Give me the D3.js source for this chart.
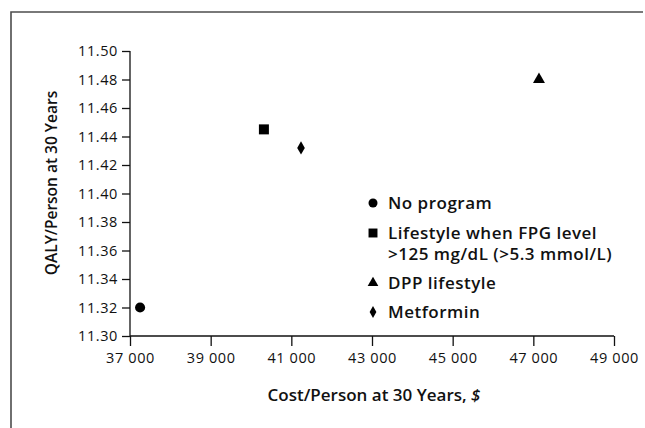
<!DOCTYPE html>
<html>
<head>
<meta charset="utf-8">
<script src="https://cdn.jsdelivr.net/npm/d3@7"></script>
<style>
  body { margin: 0; background: #fff; }
  svg { display: block; font-family: "Open Sans", sans-serif; }
</style>
</head>
<body>
<div id="chart"></div>
<script>
// the data
let strategies = ["No program", "Lifestyle when FPG level >125 mg/dL (>5.3 mmol/L)", "DPP lifestyle", "Metformin"];
let costs = [37250, 40320, 47140, 41240];
let qalys = [11.32, 11.445, 11.48, 11.432];
let symbols = ["circle", "square", "triangle", "diamond"];
let xTicks = [37000, 39000, 41000, 43000, 45000, 47000, 49000];
let yTicks = [11.30, 11.32, 11.34, 11.36, 11.38, 11.40, 11.42, 11.44, 11.46, 11.48, 11.50];

function graph(id) {
	let width = 645, height = 428;
	let margin = { left: 130, right: 31, top: 51, bottom: 92 };

	let svg = d3.select(id).append("svg")
		.attr("width", width)
		.attr("height", height);

	// frame round the figure
	svg.append("path")
		.attr("d", "M11,428 L11,12 L643,12")
		.attr("fill", "none")
		.attr("stroke", "#4d4d4d")
		.attr("stroke-width", 1.6);

	let x = d3.scaleLinear()
		.domain([37000, 49000])
		.range([margin.left, width - margin.right]);

	let y = d3.scaleLinear()
		.domain([11.30, 11.50])
		.range([height - margin.bottom, margin.top]);

	let xAxis = svg.append("g")
		.attr("transform", `translate(0,${height - margin.bottom})`)
		.call(d3.axisBottom(x).tickValues(xTicks).tickSize(10).tickPadding(7).tickFormat((d) => d3.format(",")(d).replace(",", " ")));

	let yAxis = svg.append("g")
		.attr("transform", `translate(${margin.left},0)`)
		.call(d3.axisLeft(y).tickValues(yTicks).tickSize(8).tickPadding(4).tickFormat(d3.format(".2f")));

	[xAxis, yAxis].forEach((g) => {
		g.select(".domain").attr("stroke", "#111").attr("stroke-width", 1.3);
		g.selectAll(".tick line").attr("stroke", "#111").attr("stroke-width", 1.3);
		g.selectAll(".tick text").attr("fill", "#111")
			.style("font-size", "14.5px")
			.style("letter-spacing", "0.6px")
			.style("font-family", "Open Sans");
	});
	xAxis.select(".domain").attr("d", `M${margin.left},0H${width - margin.right}`);
	yAxis.select(".domain").attr("d", `M0,${height - margin.bottom}V${margin.top}`);

	// axis titles
	let xt = svg.append("text")
		.attr("x", 374)
		.attr("y", 401)
		.attr("text-anchor", "middle")
		.attr("font-size", "17px")
		.attr("font-weight", 600)
		.attr("fill", "#111");
	xt.append("tspan").text("Cost/Person at 30 Years, ");
	xt.append("tspan").attr("font-style", "italic").text("$");

	svg.append("text")
		.attr("transform", `translate(57,183) rotate(-90)`)
		.attr("text-anchor", "middle")
		.attr("font-size", "15.5px")
		.attr("font-weight", 600)
		.attr("fill", "#111")
		.text("QALY/Person at 30 Years");

	let shape = {
		circle: d3.symbolCircle,
		square: d3.symbolSquare,
		triangle: d3.symbolTriangle,
		diamond: d3.symbolDiamond
	};
	let sizes = { circle: 80, square: 100, triangle: 62, diamond: 50 };

	// the points
	svg.selectAll("path.pt")
		.data(strategies)
		.enter()
		.append("path")
		.attr("class", "pt")
		.attr("transform", (d, i) => `translate(${x(costs[i])},${y(qalys[i])})`)
		.attr("d", (d, i) => d3.symbol().type(shape[symbols[i]]).size(sizes[symbols[i]])())
		.attr("fill", "#000");

	// legend
	let legendRows = [
		{ i: 0, y: 203, lines: ["No program"] },
		{ i: 1, y: 233, lines: ["Lifestyle when FPG level", ">125 mg/dL (>5.3 mmol/L)"] },
		{ i: 2, y: 283, lines: ["DPP lifestyle"] },
		{ i: 3, y: 312, lines: ["Metformin"] }
	];
	let legend = svg.append("g");
	legendRows.forEach((r) => {
		let s = symbols[r.i];
		legend.append("path")
			.attr("transform", `translate(373,${r.y})`)
			.attr("d", d3.symbol().type(shape[s]).size(sizes[s] * 0.8)())
			.attr("fill", "#000");
		r.lines.forEach((line, k) => {
			legend.append("text")
				.attr("x", 388)
				.attr("y", r.y + 6 + k * 21)
				.attr("font-size", "17px")
				.attr("font-weight", 600)
				.attr("letter-spacing", "0.5px")
				.attr("fill", "#111")
				.text(line);
		});
	});
}

graph("#chart");
</script>
</body>
</html>
